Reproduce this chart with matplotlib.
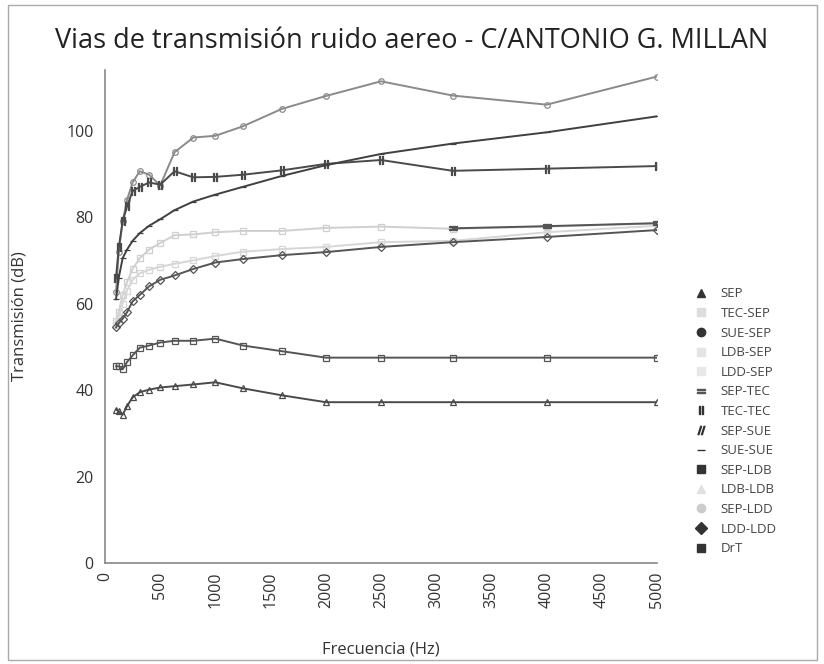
import numpy as np
import matplotlib
matplotlib.use("Agg")
from matplotlib import pyplot as plt
from matplotlib.lines import Line2D
from matplotlib.patches import Rectangle

plt.rcParams["font.family"] = ["Open Sans", "DejaVu Sans"]

# third-octave bands (Hz)
freqs = [100, 125, 160, 200, 250, 315, 400, 500, 630, 800, 1000,
         1250, 1600, 2000, 2500, 3150, 4000, 5000]

nan = np.nan
sep = [35.5, 35.1, 34.3, 36.3, 38.3, 39.5, 40.1, 40.6, 40.9, 41.3, 41.8,
       40.4, 38.8, 37.2, 37.2, 37.2, 37.2, 37.2]
tec_sep = [56, 58, 62, 65, 68, 70.5, 72.5, 74, 75.8, 76, 76.5,
           76.8, 76.8, 77.5, 77.8, 77.3, 77.8, 78.5]
sue_sep = [62.6, 72, 79, 84, 88, 90.6, 89.8, 87.3, 95, 98.4, 98.8,
           101, 105, 108, 111.4, 108.1, 106, 112.5]
ldb_sep = [55, 57, 60, 63, 65.5, 67, 67.8, 68.5, 69.2, 70, 71,
           72, 72.6, 73.1, 74.2, 74.5, 76.5, 78]
ldd_sep = [nan] * 18
sep_tec = [nan] * 15 + [77.4, 77.9, 78.6]
tec_tec = [66, 73, 79, 82.5, 86, 87, 88, 87.5, 90.6, 89.2, 89.3,
           89.8, 90.8, 92.3, 93.2, 90.7, 91.2, 91.8]
sep_sue = [nan] * 18
sue_sue = [61, 66, 70.5, 72.5, 74.5, 76.3, 78, 79.5, 81.6, 83.6, 85.2,
           87, 89.5, 92, 94.6, 97, 99.6, 103.3]
sep_ldb = [45.5, 45.5, 44.8, 46.5, 48, 49.8, 50.3, 51, 51.4, 51.4, 51.9,
           50.3, 49, 47.5, 47.5, 47.5, 47.5, 47.5]
ldb_ldb = [nan] * 18
sep_ldd = [nan] * 18
ldd_ldd = [54.5, 55.5, 56.5, 58, 60.5, 62, 64, 65.5, 66.5, 68, 69.5,
           70.3, 71.2, 71.9, 73.1, 74.2, 75.4, 77]
drt = [nan] * 18

labels = ["SEP", "TEC-SEP", "SUE-SEP", "LDB-SEP", "LDD-SEP", "SEP-TEC", "TEC-TEC",
          "SEP-SUE", "SUE-SUE", "SEP-LDB", "LDB-LDB", "SEP-LDD", "LDD-LDD", "DrT"]
series = [sep, tec_sep, sue_sep, ldb_sep, ldd_sep, sep_tec, tec_tec,
          sep_sue, sue_sue, sep_ldb, ldb_ldb, sep_ldd, ldd_ldd, drt]
colors = ["#4a4a4a", "#cfcfcf", "#8a8a8a", "#d6d6d6", "#e0e0e0", "#555555", "#4a4a4a",
          "#4a4a4a", "#404040", "#555555", "#d8d8d8", "#c8c8c8", "#555555", "#4a4a4a"]
markers = ["^", "s", "o", "s", "s", "$=$", "$||$",
           "$//$", "_", "s", "^", "o", "D", "s"]
legend_colors = ["#333333", "#dddddd", "#333333", "#e4e4e4", "#e8e8e8", "#555555", "#333333",
                 "#333333", "#333333", "#333333", "#e0e0e0", "#cccccc", "#333333", "#333333"]

fig = plt.figure(figsize=(8.24, 6.64), dpi=100)
ax = fig.add_axes([0.1274, 0.152, 0.670, 0.7425])

for vals, c, m in zip(series, colors, markers):
    ms = 4 if m not in ("$=$", "$||$", "$//$") else 6
    ax.plot(freqs, vals, color=c, linewidth=1.4, marker=m, markersize=ms,
            markerfacecolor="none", markeredgecolor=c, markeredgewidth=0.9)

ax.set_xlim(0, 5000)
ax.set_ylim(0, 114)
ax.set_xticks(range(0, 5001, 500))
ax.set_yticks(range(0, 101, 20))
ax.tick_params(axis="x", labelrotation=90, length=0, pad=6, labelsize=11.5, colors="#333333")
ax.tick_params(axis="y", length=0, pad=8, labelsize=11.5, colors="#333333")
for s in ["top", "right"]:
    ax.spines[s].set_visible(False)
for s in ["left", "bottom"]:
    ax.spines[s].set_color("#888888")
    ax.spines[s].set_linewidth(1.2)

ax.set_ylabel("Transmisión (dB)", fontsize=12, color="#333333", labelpad=28)
ax.set_xlabel("Frecuencia (Hz)", fontsize=12, color="#333333", labelpad=24)
fig.text(0.5, 0.938, "Vias de transmisión ruido aereo - C/ANTONIO G. MILLAN",
         ha="center", va="center", fontsize=19.5, color="#222222")

handles = [Line2D([], [], linestyle="None", marker=m, color=c, markersize=6,
                  markerfacecolor=c, markeredgecolor=c)
           for m, c in zip(markers, legend_colors)]
fig.legend(handles, labels, loc="upper left", bbox_to_anchor=(0.828, 0.585),
           frameon=False, fontsize=9.5, handlelength=1.0, handletextpad=1.0,
           labelspacing=0.5, labelcolor="#444444")

fig.patches.append(Rectangle((0.01, 0.006), 0.982, 0.987, transform=fig.transFigure,
                             fill=False, edgecolor="#aaaaaa", linewidth=1.0))

fig.savefig("out.png", dpi=100)
